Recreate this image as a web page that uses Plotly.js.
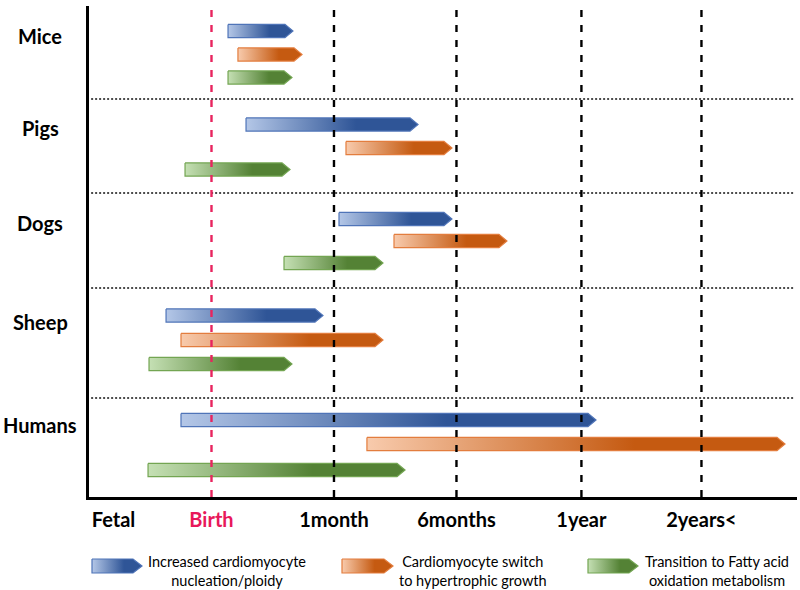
<!DOCTYPE html>
<html>
<head>
<meta charset="utf-8">
<script src="https://cdn.plot.ly/plotly-3.0.1.min.js"></script>
<style>html,body{margin:0;padding:0;background:#fff;}#chart{width:800px;height:590px;}</style>
</head>
<body>
<div id="chart"></div>
<script>
// ---------- DATA ----------
const species = ['Mice', 'Pigs', 'Dogs', 'Sheep', 'Humans'];
const processNames = [
  'Increased cardiomyocyte<br>nucleation/ploidy',
  'Cardiomyocyte switch<br>to hypertrophic growth',
  'Transition to Fatty acid<br>oxidation metabolism'
];
// time scale: 0 = fetal origin, 1 = Birth, 2 = 1month, 3 = 6months, 4 = 1year, 5 = 2years<
const nucleationStart  = [1.135, 1.282, 2.041, 0.629, 0.751];
const nucleationEnd    = [1.665, 2.686, 2.963, 1.910, 4.139];
const hypertrophyStart = [1.216, 2.098, 2.490, 0.751, 2.269];
const hypertrophyEnd   = [1.739, 2.963, 3.412, 2.400, 5.682];
const faoStart         = [1.135, 0.784, 1.592, 0.490, 0.482];
const faoEnd           = [1.657, 1.641, 2.400, 1.657, 2.580];
const timeTickVals  = [0.2, 1, 2, 3, 4.02, 5];
const timeTickText  = ['Fetal', 'Birth', '1month', '6months', '1year', '2years<'];

// ---------- LAYOUT / STYLE CONSTANTS ----------
const W = 800, H = 590;
const plotL = 89, plotR = 797, plotT = 6, plotB = 497;
const xMax = 5.78;
const laneY = [            // vertical centre of each lane (figure px)
  [31, 54.5, 77.5],
  [124.5, 148, 169.5],
  [219, 241, 263],
  [315.5, 340, 364],
  [420, 444, 470]
];
const speciesLabelY = [36, 128, 223, 322, 425];
const separatorsY = [99, 193, 288, 398];
const halfH = 6.6;
const tipLen = 8 / ((plotR - plotL) / xMax);
const palettes = [
  {light: '#b4c7e7', dark: '#2f5597', border: '#4f74b8'},
  {light: '#f8cbad', dark: '#c55a11', border: '#e37d3e'},
  {light: '#c5e0b4', dark: '#548235', border: '#73a552'}
];
const starts = [nucleationStart, hypertrophyStart, faoStart];
const ends   = [nucleationEnd, hypertrophyEnd, faoEnd];
const FONT = 'Lato, "Open Sans", sans-serif';

function arrowTrace(x0, x1, yc, hh, tip, pal, xa, ya) {
  const xb = x1 - tip;
  return {
    type: 'scatter', mode: 'lines', xaxis: xa, yaxis: ya,
    x: [x0, xb, x1, xb, x0, x0],
    y: [yc - hh, yc - hh, yc, yc + hh, yc + hh, yc - hh],
    fill: 'toself',
    fillgradient: {type: 'horizontal',
      colorscale: [[0, pal.light], [0.64, pal.dark], [1, pal.dark]]},
    line: {color: pal.border, width: 1.2},
    hoverinfo: 'skip', showlegend: false
  };
}

const traces = [];
species.forEach((sp, i) => {
  for (let p = 0; p < 3; p++) {
    traces.push(arrowTrace(starts[p][i], ends[p][i], laneY[i][p], halfH, tipLen, palettes[p], 'x', 'y'));
  }
});

// legend swatches (overlay pixel axes)
const legendX = [[92, 142], [342, 393], [588, 638]];
const legendTextX = [227, 473, 717];
const legendY = 566;
for (let p = 0; p < 3; p++) {
  traces.push(arrowTrace(legendX[p][0], legendX[p][1], legendY, 7, 9, palettes[p], 'x2', 'y2'));
}

const shapes = [];
// dotted separators
separatorsY.forEach(y => shapes.push({
  type: 'line', xref: 'x domain', yref: 'y', x0: 0.003, x1: 0.996, y0: y, y1: y,
  line: {color: '#111', width: 1.5, dash: '2px,2px'}, layer: 'above'
}));
// dashed time markers
timeTickVals.forEach((v, k) => {
  if (k === 0) return;
  shapes.push({
    type: 'line', xref: 'x', yref: 'y domain', x0: v, x1: v, y0: 0, y1: 1,
    line: {color: k === 1 ? '#e8245e' : '#000', width: 2.4, dash: '7px,8px'}, layer: 'above'
  });
});

const annotations = [];
species.forEach((sp, i) => annotations.push({
  xref: 'x2', yref: 'y2', x: 40, y: speciesLabelY[i], text: '<b>' + sp + '</b>',
  showarrow: false, xanchor: 'center', yanchor: 'middle',
  font: {family: FONT, size: 20, color: '#000'}
}));
processNames.forEach((t, p) => annotations.push({
  xref: 'x2', yref: 'y2', x: legendTextX[p], y: 571, text: t,
  showarrow: false, xanchor: 'center', yanchor: 'middle', align: 'center',
  font: {family: FONT, size: 14.5, color: '#000'}
}));

const tickText = timeTickText.map((t, k) =>
  k === 1 ? '<span style="color:#e8185a">' + t + '</span>' : t);

const layout = {
  width: W, height: H,
  margin: {l: 0, r: 0, t: 0, b: 0, pad: 0},
  paper_bgcolor: '#fff', plot_bgcolor: 'rgba(0,0,0,0)',
  showlegend: false,
  xaxis: {
    domain: [plotL / W, plotR / W], range: [0, xMax], fixedrange: true,
    showgrid: false, zeroline: false, showline: true, linecolor: '#000', linewidth: 3,
    tickmode: 'array', tickvals: timeTickVals, ticktext: tickText, ticks: '',
    tickfont: {family: FONT, size: 20, color: '#000', weight: 'bold'},
    ticklabelstandoff: 3, automargin: false
  },
  yaxis: {
    domain: [(H - plotB) / H, (H - plotT) / H], range: [plotB, plotT], fixedrange: true,
    showgrid: false, zeroline: false, showline: true, linecolor: '#000', linewidth: 3,
    showticklabels: false, ticks: '', automargin: false
  },
  xaxis2: {domain: [0, 1], range: [0, W], visible: false, fixedrange: true, anchor: 'y2'},
  yaxis2: {domain: [0, 1], range: [H, 0], visible: false, fixedrange: true, anchor: 'x2'},
  shapes: shapes,
  annotations: annotations
};

Plotly.newPlot('chart', traces, layout, {staticPlot: true, displayModeBar: false});
</script>
</body>
</html>
